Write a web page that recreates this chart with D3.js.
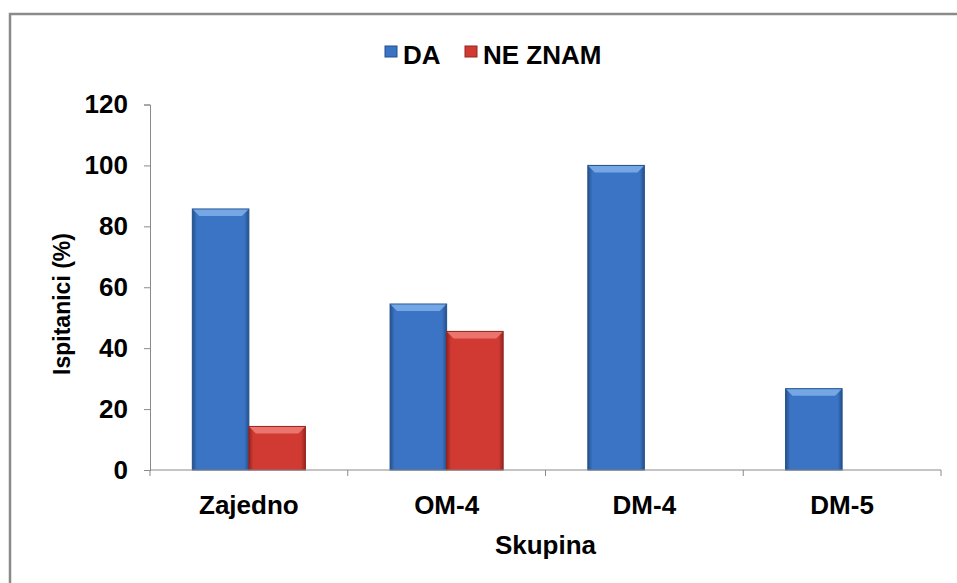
<!DOCTYPE html>
<html><head><meta charset="utf-8">
<script src="https://cdn.jsdelivr.net/npm/d3@7"></script>
<style>
html,body{margin:0;padding:0;background:#fff;}
svg text{font-family:"Liberation Sans",Arial,sans-serif;font-weight:bold;fill:#000;}
</style></head>
<body><svg id="c" width="957" height="583"></svg>
<script>
const categories = ["Zajedno", "OM-4", "DM-4", "DM-5"];
const seriesNames = ["DA", "NE ZNAM"];
const daValues = [85.7, 54.5, 100, 26.7];
const neZnamValues = [14.3, 45.5, 0, 0];
const yTicks = [0, 20, 40, 60, 80, 100, 120];
const yTitle = "Ispitanici (%)";
const xTitle = "Skupina";

(function(){
const svg = d3.select("#c");
const defs = svg.append("defs");
const FS = "26px";
const colors = {
  "DA": {body:"#3b74c4", edge:"#23508c", top:"#80b0ea"},
  "NE ZNAM": {body:"#d03a33", edge:"#96241f", top:"#f08078"}
};
Object.entries(colors).forEach(([k,c],i)=>{
  const g = defs.append("linearGradient").attr("id","g"+i).attr("x1","0").attr("x2","1").attr("y1","0").attr("y2","0");
  g.append("stop").attr("offset","0").attr("stop-color",c.edge);
  g.append("stop").attr("offset","0.08").attr("stop-color",c.body);
  g.append("stop").attr("offset","0.92").attr("stop-color",c.body);
  g.append("stop").attr("offset","1").attr("stop-color",c.edge);
});

svg.append("rect").attr("x",10).attr("y",14).attr("width",1200).attr("height",1200)
  .attr("fill","none").attr("stroke","#8a8a8a").attr("stroke-width",2.5);

const pLeft=150, pRight=941, pTop=104.5, pBottom=470;
const x = d3.scaleBand().domain(categories).range([pLeft,pRight]);
const bw = x.bandwidth();
const xs = d3.scaleBand().domain(seriesNames).range([bw*0.214, bw*0.786]);
const y = d3.scaleLinear().domain([0,120]).range([pBottom,pTop]);

const yAxis = svg.append("g").attr("transform",`translate(${pLeft},0)`)
  .call(d3.axisLeft(y).tickValues(yTicks).tickSize(6).tickPadding(16));
yAxis.select(".domain").attr("stroke","#8a8a8a");
yAxis.selectAll(".tick line").attr("stroke","#8a8a8a");
yAxis.selectAll("text").style("font-size",FS).attr("font-family",null);

const series = seriesNames.map((s,i)=>({name:s, values: i===0?daValues:neZnamValues}));
const bars = [];
series.forEach((s,si)=>{
  s.values.forEach((v,ci)=>{ if(v>0) bars.push({s:s.name, si, c:categories[ci], v}); });
});
const bg = svg.append("g");
bars.forEach(b=>{
  const bx = x(b.c)+xs(b.s), w = xs.bandwidth(), by = y(b.v), h = y(0)-y(b.v);
  const c = colors[b.s];
  bg.append("rect").attr("x",bx).attr("y",by).attr("width",w).attr("height",h)
    .attr("fill",`url(#g${b.si})`).attr("stroke",c.edge).attr("stroke-width",1);
  const bev = 7;
  bg.append("path").attr("d",`M${bx+0.5},${by+0.5}L${bx+w-0.5},${by+0.5}L${bx+w-bev},${by+bev}L${bx+bev},${by+bev}Z`)
    .attr("fill",c.top).attr("opacity",0.85);
});

const xAxisG = svg.append("g").attr("transform",`translate(0,${pBottom})`);
xAxisG.append("line").attr("x1",pLeft).attr("x2",pRight).attr("stroke","#8a8a8a");
const bounds = categories.map(c=>x(c)).concat([pRight]);
xAxisG.selectAll(".tk").data(bounds).join("line").attr("class","tk")
  .attr("x1",d=>d).attr("x2",d=>d).attr("y1",0).attr("y2",6).attr("stroke","#8a8a8a");
xAxisG.selectAll(".lbl").data(categories).join("text").attr("class","lbl")
  .attr("x",d=>x(d)+bw/2).attr("y",44).attr("text-anchor","middle").style("font-size",FS).text(d=>d);

svg.append("text").attr("x",(pLeft+pRight)/2).attr("y",554).attr("text-anchor","middle")
  .style("font-size",FS).text(xTitle);
svg.append("text").attr("transform",`translate(70,304) rotate(-90)`)
  .attr("text-anchor","middle").style("font-size","23px").text(yTitle);

const leg = svg.append("g");
const legX = [385, 465];
seriesNames.forEach((s,i)=>{
  leg.append("rect").attr("x",legX[i]).attr("y",46).attr("width",12).attr("height",11)
    .attr("fill",colors[s].body).attr("stroke",colors[s].edge).attr("stroke-width",1);
  leg.append("text").attr("x",legX[i]+18).attr("y",64).style("font-size",FS).text(s);
});
})();
</script></body></html>
